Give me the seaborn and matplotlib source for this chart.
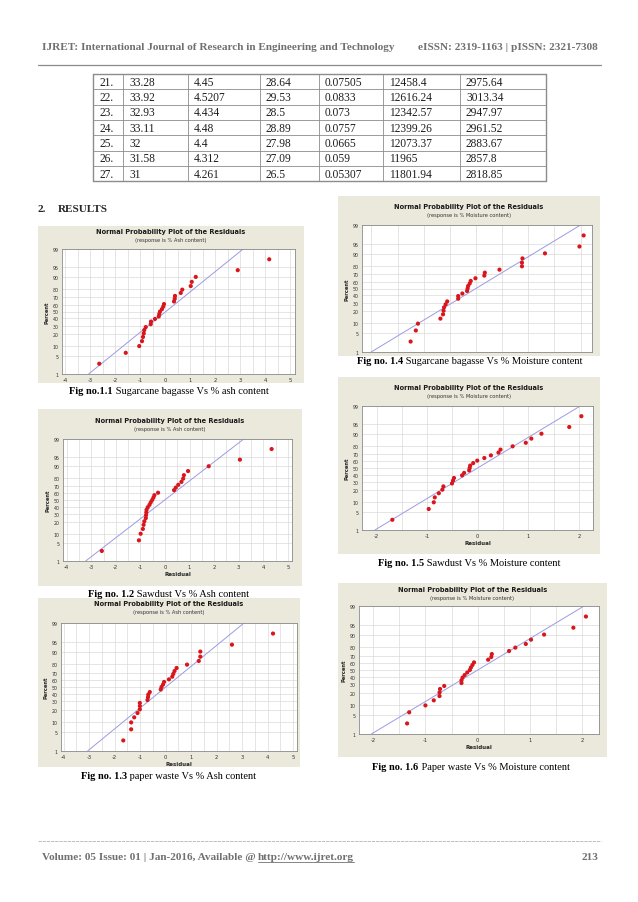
from statistics import NormalDist

import matplotlib
matplotlib.use("Agg")
import matplotlib.pyplot as plt
import numpy as np
import pandas as pd
import seaborn as sns
from matplotlib.lines import Line2D
from matplotlib.patches import Rectangle
from matplotlib.ticker import MultipleLocator, NullLocator

W, H = 638, 903

HEADER_LEFT = "IJRET: International Journal of Research in Engineering and Technology"
HEADER_RIGHT = "eISSN: 2319-1163 | pISSN: 2321-7308"
FOOTER_LEFT = "Volume: 05 Issue: 01 | Jan-2016, Available @ "
FOOTER_LINK = "http://www.ijret.org"
FOOTER_PAGE = "213"

# table rows (continued from previous page)
TABLE_NO = ["21.", "22.", "23.", "24.", "25.", "26.", "27."]
TABLE_C1 = ["33.28", "33.92", "32.93", "33.11", "32", "31.58", "31"]
TABLE_C2 = ["4.45", "4.5207", "4.434", "4.48", "4.4", "4.312", "4.261"]
TABLE_C3 = ["28.64", "29.53", "28.5", "28.89", "27.98", "27.09", "26.5"]
TABLE_C4 = ["0.07505", "0.0833", "0.073", "0.0757", "0.0665", "0.059", "0.05307"]
TABLE_C5 = ["12458.4", "12616.24", "12342.57", "12399.26", "12073.37", "11965", "11801.94"]
TABLE_C6 = ["2975.64", "3013.34", "2947.97", "2961.52", "2883.67", "2857.8", "2818.85"]

# plotting positions (percent) of the 27 ranked residuals
PERCENT = [2.6, 6.2, 9.9, 13.5, 17.2, 20.8, 24.5, 28.1, 31.8, 35.4, 39.1, 42.7, 46.4, 50.0,
           53.6, 57.3, 60.9, 64.6, 68.2, 71.9, 75.5, 79.2, 82.8, 86.5, 90.1, 93.8, 97.4]
PERCENT_TICKS = [1, 5, 10, 20, 30, 40, 50, 60, 70, 80, 90, 95, 99]
ASH_TICKS = [-4, -3, -2, -1, 0, 1, 2, 3, 4, 5]
MOIST_TICKS = [-2, -1, 0, 1, 2]

RES_BAGASSE_ASH = [-2.63, -1.57, -1.03, -0.92, -0.88, -0.85, -0.83, -0.77, -0.57, -0.56, -0.40,
                   -0.25, -0.23, -0.20, -0.12, -0.07, -0.04, 0.36, 0.39, 0.40, 0.63, 0.69, 1.03,
                   1.07, 1.23, 2.91, 4.17]
RES_SAWDUST_ASH = [-2.57, -1.06, -0.99, -0.90, -0.87, -0.84, -0.78, -0.77, -0.76, -0.75, -0.70,
                   -0.63, -0.58, -0.52, -0.47, -0.43, -0.28, 0.37, 0.44, 0.54, 0.67, 0.74, 0.77,
                   0.94, 1.78, 3.05, 4.34]
RES_PAPER_ASH = [-1.66, -1.35, -1.35, -1.23, -1.10, -1.01, -1.01, -1.01, -0.71, -0.69, -0.68,
                 -0.62, -0.19, -0.16, -0.10, -0.06, 0.13, 0.26, 0.30, 0.35, 0.43, 0.84, 1.30,
                 1.36, 1.36, 2.60, 4.21]
RES_BAGASSE_MOIST = [-1.25, -1.15, -1.11, -0.68, -0.63, -0.62, -0.61, -0.58, -0.55, -0.34, -0.34,
                     -0.26, -0.17, -0.16, -0.15, -0.12, -0.10, -0.01, 0.16, 0.17, 0.45, 0.88, 0.88,
                     0.89, 1.32, 1.98, 2.06]
RES_SAWDUST_MOIST = [-1.69, -0.97, -0.87, -0.85, -0.77, -0.70, -0.68, -0.51, -0.49, -0.47, -0.31,
                     -0.27, -0.17, -0.16, -0.15, -0.09, -0.01, 0.13, 0.26, 0.41, 0.45, 0.69, 0.95,
                     1.06, 1.26, 1.81, 2.05]
RES_PAPER_MOIST = [-1.35, -1.31, -1.00, -0.84, -0.73, -0.73, -0.72, -0.64, -0.31, -0.31, -0.29,
                   -0.25, -0.20, -0.15, -0.13, -0.10, -0.07, 0.20, 0.26, 0.27, 0.60, 0.72, 0.92,
                   1.02, 1.27, 1.83, 2.07]

PLOT_TITLE = "Normal Probability Plot of the Residuals"
PANEL_BG = "#ebe8dc"
GRID_COLOR = "#d6d6d6"
POINT_COLOR = "#d8161c"
LINE_COLOR = "#9b9be3"
PAGE_GRAY = "#707070"
SERIF = "Liberation Serif"

ND = NormalDist()


def probit(p):
    arr = np.asarray(p, dtype=float)
    out = [ND.inv_cdf(min(max(v, 1e-6), 100 - 1e-6) / 100.0) if np.isfinite(v) else np.nan
           for v in arr.ravel()]
    return np.array(out, dtype=float).reshape(arr.shape)


def inv_probit(z):
    arr = np.asarray(z, dtype=float)
    out = [ND.cdf(v) * 100.0 if np.isfinite(v) else np.nan for v in arr.ravel()]
    return np.array(out, dtype=float).reshape(arr.shape)


def fx(px):
    return px / W


def fy(py):
    return 1 - py / H


def hline(fig, x0, x1, y, color, lw, ls="-"):
    fig.add_artist(Line2D([fx(x0), fx(x1)], [fy(y), fy(y)], color=color, linewidth=lw,
                          linestyle=ls, transform=fig.transFigure))


def vline(fig, x, y0, y1, color, lw):
    fig.add_artist(Line2D([fx(x), fx(x)], [fy(y0), fy(y1)], color=color, linewidth=lw,
                          transform=fig.transFigure))


def two_part_text(fig, renderer, x, y, bold, rest, size, color="black", center=False):
    t1 = fig.text(0, fy(y), bold, fontsize=size, fontweight="bold", family=SERIF,
                  color=color, va="center")
    t2 = fig.text(0, fy(y), rest, fontsize=size, family=SERIF, color=color, va="center")
    w1 = t1.get_window_extent(renderer).width
    w2 = t2.get_window_extent(renderer).width
    x0 = x - (w1 + w2) / 2 if center else x
    t1.set_x(fx(x0))
    t2.set_x(fx(x0 + w1))
    return t2


def draw_page(fig, renderer):
    fig.text(fx(41.5), fy(47.5), HEADER_LEFT, fontsize=8.1, fontweight="bold", family=SERIF,
             color=PAGE_GRAY, va="center")
    fig.text(fx(598), fy(47.5), HEADER_RIGHT, fontsize=8.1, fontweight="bold", family=SERIF,
             color=PAGE_GRAY, va="center", ha="right")
    hline(fig, 38, 601, 65.5, "#8a8a8a", 0.9)

    hline(fig, 38, 601, 842, "#b4b4b4", 0.6, ls=(0, (4, 1)))
    t0 = fig.text(fx(41.5), fy(858), FOOTER_LEFT, fontsize=8.1, fontweight="bold", family=SERIF,
                  color=PAGE_GRAY, va="center")
    w0 = t0.get_window_extent(renderer).width
    link = fig.text(fx(41.5 + w0), fy(858), FOOTER_LINK, fontsize=8.1, fontweight="bold",
                    family=SERIF, color=PAGE_GRAY, va="center")
    bb = link.get_window_extent(renderer)
    hline(fig, bb.x0, bb.x1, H - bb.y0 + 0.5, PAGE_GRAY, 0.6)
    fig.text(fx(598), fy(858), FOOTER_PAGE, fontsize=8.1, fontweight="bold", family=SERIF,
             color=PAGE_GRAY, va="center", ha="right")

    fig.text(fx(38), fy(209), "2.", fontsize=8, fontweight="bold", family=SERIF, va="center")
    fig.text(fx(58), fy(209), "RESULTS", fontsize=8, fontweight="bold", family=SERIF, va="center")


def draw_table(fig):
    col_edges = [93, 123, 188, 260, 319, 383, 460, 546]
    top, row_h = 75, 15.35
    columns = [TABLE_NO, TABLE_C1, TABLE_C2, TABLE_C3, TABLE_C4, TABLE_C5, TABLE_C6]
    n = len(TABLE_NO)
    bottom = top + n * row_h
    for i in range(n + 1):
        hline(fig, col_edges[0], col_edges[-1], top + i * row_h, "#8c8c8c",
              1.0 if i in (0, n) else 0.6)
    for j, x in enumerate(col_edges):
        vline(fig, x, top, bottom, "#8c8c8c", 1.0 if j in (0, len(col_edges) - 1) else 0.6)
    for j, col in enumerate(columns):
        for i, val in enumerate(col):
            fig.text(fx(col_edges[j] + 6), fy(top + (i + 0.5) * row_h), val, fontsize=8.3,
                     family=SERIF, color="#1e1e1e", va="center")


def draw_panel(fig, renderer, spec):
    x0, y0, x1, y1 = spec["panel"]
    fig.add_artist(Rectangle((fx(x0), fy(y1)), (x1 - x0) / W, (y1 - y0) / H,
                             transform=fig.transFigure, facecolor=PANEL_BG, edgecolor="none",
                             zorder=0))
    cx = (x0 + x1) / 2
    fig.text(fx(cx), fy(spec["title_y"]), PLOT_TITLE, ha="center", va="center", fontsize=4.8,
             fontweight="bold", color="#1a1a1a")
    fig.text(fx(cx), fy(spec["title_y"] + 8.5), f"(response is {spec['response']})",
             ha="center", va="center", fontsize=3.7, color="#333333")

    a0, b0, a1, b1 = spec["axes"]
    ax = fig.add_axes([fx(a0), fy(b1), (a1 - a0) / W, (b1 - b0) / H])
    ax.set_yscale("function", functions=(probit, inv_probit))

    df = pd.DataFrame({"Residual": spec["res"], "Percent": PERCENT})
    mu, sd = df["Residual"].mean(), df["Residual"].std()
    fit = pd.DataFrame({"Percent": [PERCENT_TICKS[0], PERCENT_TICKS[-1]]})
    fit["Residual"] = mu + sd * probit(fit["Percent"].to_numpy())
    sns.lineplot(data=fit, x="Residual", y="Percent", color=LINE_COLOR, linewidth=0.7,
                 sort=False, estimator=None, ax=ax, zorder=2)
    sns.scatterplot(data=df, x="Residual", y="Percent", color=POINT_COLOR, s=9,
                    edgecolor="none", ax=ax, zorder=3)

    ax.set_xlim(spec["xlim"])
    ax.set_ylim(PERCENT_TICKS[0], PERCENT_TICKS[-1])
    ax.set_xticks(spec["ticks"])
    ax.xaxis.set_minor_locator(MultipleLocator(0.5))
    ax.set_yticks(PERCENT_TICKS)
    ax.set_yticklabels([str(t) for t in PERCENT_TICKS])
    ax.yaxis.set_minor_locator(NullLocator())
    ax.set_axisbelow(True)
    ax.grid(True, which="both", color=GRID_COLOR, linewidth=0.45)
    ax.tick_params(axis="both", which="major", labelsize=3.4, length=1.5, width=0.4,
                   pad=1, colors="#333333")
    ax.tick_params(axis="x", which="major", labelsize=3.8)
    ax.tick_params(axis="both", which="minor", length=0)
    for s in ax.spines.values():
        s.set_color("#8a8a8a")
        s.set_linewidth(0.6)
    ax.set_ylabel("Percent", fontsize=3.7, fontweight="bold", labelpad=2)
    if spec["xlabel"]:
        ax.set_xlabel("Residual", fontsize=4, fontweight="bold", labelpad=1)
    else:
        ax.set_xlabel("")
    if not spec["xticklabels"]:
        ax.tick_params(axis="x", labelbottom=False)

    cap_x, cap_y = spec["caption_xy"]
    two_part_text(fig, renderer, cap_x, cap_y, spec["cap_bold"], spec["cap_rest"], 7.5,
                  center=True)


PANELS = [
    dict(res=RES_BAGASSE_ASH, response="% Ash content", ticks=ASH_TICKS, xlim=(-4.12, 5.2),
         panel=(38, 227, 304, 384), axes=(62, 250, 295, 375), title_y=232,
         caption_xy=(169, 391), cap_bold="Fig no.1.1",
         cap_rest=" Sugarcane bagasse Vs % ash content", xticklabels=True, xlabel=False),
    dict(res=RES_SAWDUST_ASH, response="% Ash content", ticks=ASH_TICKS, xlim=(-4.15, 5.17),
         panel=(38, 410, 302, 587), axes=(63, 440, 292, 562), title_y=421,
         caption_xy=(169, 595), cap_bold="Fig no. 1.2",
         cap_rest=" Sawdust Vs % Ash content", xticklabels=True, xlabel=True),
    dict(res=RES_PAPER_ASH, response="% Ash content", ticks=ASH_TICKS, xlim=(-4.1, 5.15),
         panel=(38, 599, 300, 768), axes=(61, 624, 297, 752), title_y=604,
         caption_xy=(169, 777), cap_bold="Fig no. 1.3",
         cap_rest=" paper waste Vs % Ash content", xticklabels=True, xlabel=True),
    dict(res=RES_BAGASSE_MOIST, response="% Moisture content", ticks=MOIST_TICKS,
         xlim=(-2.18, 2.22), panel=(338, 197, 600, 357), axes=(362, 226, 592, 353),
         title_y=207, caption_xy=(470, 362), cap_bold="Fig no. 1.4",
         cap_rest=" Sugarcane bagasse Vs % Moisture content", xticklabels=False, xlabel=False),
    dict(res=RES_SAWDUST_MOIST, response="% Moisture content", ticks=MOIST_TICKS,
         xlim=(-2.29, 2.28), panel=(338, 378, 600, 555), axes=(362, 407, 593, 531),
         title_y=388, caption_xy=(469, 563), cap_bold="Fig no. 1.5",
         cap_rest=" Sawdust Vs % Moisture content", xticklabels=True, xlabel=True),
    dict(res=RES_PAPER_MOIST, response="% Moisture content", ticks=MOIST_TICKS,
         xlim=(-2.27, 2.32), panel=(338, 584, 607, 758), axes=(359, 607, 599, 735),
         title_y=590, caption_xy=(471, 767), cap_bold="Fig no. 1.6",
         cap_rest=" Paper waste Vs % Moisture content", xticklabels=True, xlabel=True),
]


def main():
    sns.set_style("white")
    plt.rcParams["font.family"] = ["DejaVu Sans"]
    plt.rcParams["axes.unicode_minus"] = False

    fig = plt.figure(figsize=(W / 100, H / 100), dpi=100, facecolor="white")
    renderer = fig.canvas.get_renderer()

    draw_page(fig, renderer)
    draw_table(fig)
    for spec in PANELS:
        draw_panel(fig, renderer, spec)

    fig.savefig("out.png", dpi=100, facecolor="white")
    plt.close(fig)


if __name__ == "__main__":
    main()
